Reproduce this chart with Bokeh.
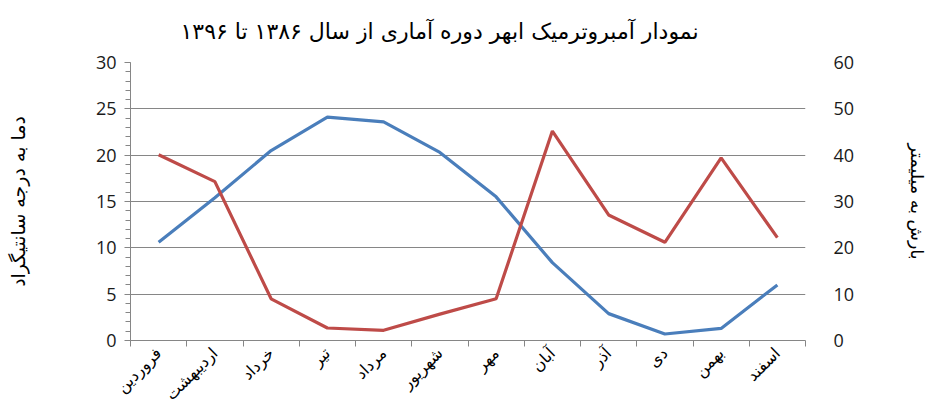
from bokeh.plotting import figure
from bokeh.models import Range1d, LinearAxis, FixedTicker
from bokeh.embed import file_html
from bokeh.resources import INLINE
import math

months = ["فروردین", "اردیبهشت", "خرداد", "تیر", "مرداد", "شهریور",
          "مهر", "آبان", "آذر", "دی", "بهمن", "اسفند"]
temperature = [10.6, 15.4, 20.5, 24.1, 23.6, 20.3, 15.5, 8.4, 2.9, 0.7, 1.3, 6.0]
precipitation = [40.1, 34.3, 9.0, 2.7, 2.2, 5.7, 9.0, 45.2, 27.1, 21.2, 39.4, 22.2]
temp_ticks = [0, 5, 10, 15, 20, 25, 30]
rain_ticks = [0, 10, 20, 30, 40, 50, 60]

title_text = "نمودار آمبروترمیک ابهر دوره آماری از سال ۱۳۸۶ تا ۱۳۹۶"
left_label = "دما به درجه سانتیگراد"
right_label = "بارش به میلیمتر"

FA = "DejaVu Sans"
NUM = "Open Sans"

xs = [i + 0.5 for i in range(len(months))]

p = figure(width=930, height=414, output_backend="svg", toolbar_location=None,
           x_range=Range1d(0, len(months)), y_range=Range1d(0, 30),
           min_border_left=130, min_border_right=122, min_border_top=62,
           min_border_bottom=74, y_axis_location=None, x_axis_location=None)
p.outline_line_color = None
p.background_fill_color = "white"
p.border_fill_color = "white"

p.title.text = title_text
p.title.text_font = FA
p.title.text_font_size = "22px"
p.title.text_font_style = "normal"
p.title.align = "left"
p.title.offset = 50
p.title.vertical_align = "top"
p.title.standoff = 33
p.title.text_color = "#000000"

p.extra_y_ranges = {"rain": Range1d(0, 60)}

# left axis
yl = LinearAxis(ticker=FixedTicker(ticks=temp_ticks, minor_ticks=list(range(0, 31))))
yl.axis_label = left_label
yl.axis_label_text_font = FA
yl.axis_label_text_font_size = "19px"
yl.axis_label_text_font_style = "normal"
yl.axis_label_text_color = "#000000"
yl.axis_label_standoff = 64
yl.major_label_text_font = NUM
yl.major_label_text_font_size = "18px"
yl.major_label_text_color = "#1a1a1a"
yl.major_label_standoff = 8
yl.axis_line_color = "#868686"
yl.major_tick_line_color = "#868686"
yl.minor_tick_line_color = "#868686"
yl.major_tick_in = 0
yl.major_tick_out = 6
yl.minor_tick_in = 0
yl.minor_tick_out = 5
p.add_layout(yl, "left")

# right axis
yr = LinearAxis(y_range_name="rain", ticker=FixedTicker(ticks=rain_ticks))
yr.axis_label = right_label
yr.axis_label_text_font = FA
yr.axis_label_text_font_size = "17.5px"
yr.axis_label_text_font_style = "normal"
yr.axis_label_text_color = "#000000"
yr.axis_label_standoff = 50
yr.major_label_text_font = NUM
yr.major_label_text_font_size = "18px"
yr.major_label_text_color = "#1a1a1a"
yr.major_label_standoff = 22
yr.axis_line_color = None
yr.major_tick_line_color = None
yr.minor_tick_line_color = None
p.add_layout(yr, "right")

# bottom axis
xa = LinearAxis(ticker=FixedTicker(ticks=xs, minor_ticks=list(range(0, 13))))
xa.major_label_overrides = {x: m for x, m in zip(xs, months)}
xa.major_label_orientation = math.pi / 4
xa.major_label_text_font = FA
xa.major_label_text_font_size = "16px"
xa.major_label_text_color = "#000000"
xa.major_label_standoff = 4
xa.axis_line_color = "#868686"
xa.major_tick_line_color = None
xa.minor_tick_line_color = "#868686"
xa.minor_tick_in = 0
xa.minor_tick_out = 6
p.add_layout(xa, "below")

p.xgrid.visible = False
p.ygrid.ticker = FixedTicker(ticks=temp_ticks)
p.ygrid.grid_line_color = "#868686"
p.ygrid.grid_line_width = 1

p.line(xs, temperature, line_color="#4A7EBB", line_width=3.2)
p.line(xs, precipitation, y_range_name="rain", line_color="#BE4B48", line_width=3.2)

open("out.html", "w").write(file_html(p, INLINE))
